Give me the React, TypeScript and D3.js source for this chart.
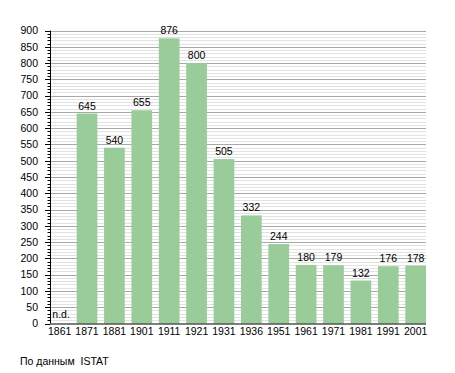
import React from "react";
import * as d3 from "d3";

const years = ["1861","1871","1881","1901","1911","1921","1931","1936","1951","1961","1971","1981","1991","2001"];
const population: (number | null)[] = [null,645,540,655,876,800,505,332,244,180,179,132,176,178];
const yTicks = [0,50,100,150,200,250,300,350,400,450,500,550,600,650,700,750,800,850,900];
const minorTicks = d3.range(0, 901, 10);
const sourceNote = "По данным\u00a0 ISTAT";
const missingLabel = "n.d.";

const W = 455, H = 373;
const axisX = 50.5;
const plotRight = 426;
const y0 = 323.5, yTop = 30.5;

export default function App() {
  const x = d3.scaleBand<string>().domain(years).range([49.3, plotRight]).paddingInner(0.245).paddingOuter(0);
  const y = d3.scaleLinear().domain([0, 900]).range([y0, yTop]);
  const font = "'Liberation Sans', Arial, sans-serif";
  return (
    <svg width={W} height={H} style={{ position: "absolute", left: 0, top: 0 }} fontFamily={font}>
      <rect width={W} height={H} fill="#fff" />
      {minorTicks.filter(v => v % 50 !== 0).map(v => (
        <line key={"m" + v} x1={axisX} x2={plotRight} y1={Math.round(y(v)) + 0.5} y2={Math.round(y(v)) + 0.5} stroke="#e2e2e2" strokeWidth={1} />
      ))}
      {yTicks.filter(v => v > 0).map(v => (
        <line key={"g" + v} x1={axisX} x2={plotRight} y1={Math.round(y(v)) + 0.5} y2={Math.round(y(v)) + 0.5} stroke="#a8a8a8" strokeWidth={1} />
      ))}
      {years.map((yr, i) => {
        const v = population[i];
        const bx = x(yr)!;
        const bw = x.bandwidth();
        if (v == null) {
          return (
            <text key={yr} x={bx + 3} y={318} fontSize={10.5} fill="#000">{missingLabel}</text>
          );
        }
        return (
          <g key={yr}>
            <rect x={bx} y={y(v)} width={bw} height={y0 - y(v)} fill="#99cc99" />
            <text x={bx + bw / 2} y={y(v) - 4} fontSize={10.5} textAnchor="middle" fill="#000">{v}</text>
          </g>
        );
      })}
      {minorTicks.map(v => (
        <line key={"t" + v} x1={v % 50 === 0 ? 45 : 47.5} x2={axisX} y1={Math.round(y(v)) + 0.5} y2={Math.round(y(v)) + 0.5} stroke="#000" strokeWidth={1} />
      ))}
      {yTicks.map(v => (
        <text key={"l" + v} x={38} y={y(v) + 3.8} fontSize={10.5} textAnchor="end" fill="#000">{v}</text>
      ))}
      <line x1={axisX} x2={axisX} y1={yTop} y2={y0} stroke="#000" strokeWidth={1} />
      <line x1={axisX} x2={plotRight} y1={y0 + 0.5} y2={y0 + 0.5} stroke="#000" strokeWidth={1.2} />
      {years.map(yr => (
        <text key={"x" + yr} x={x(yr)! + x.bandwidth() / 2} y={335} fontSize={10.5} textAnchor="middle" fill="#000">{yr}</text>
      ))}
      <text x={20} y={365} fontSize={10.5} fill="#000">{sourceNote}</text>
    </svg>
  );
}
